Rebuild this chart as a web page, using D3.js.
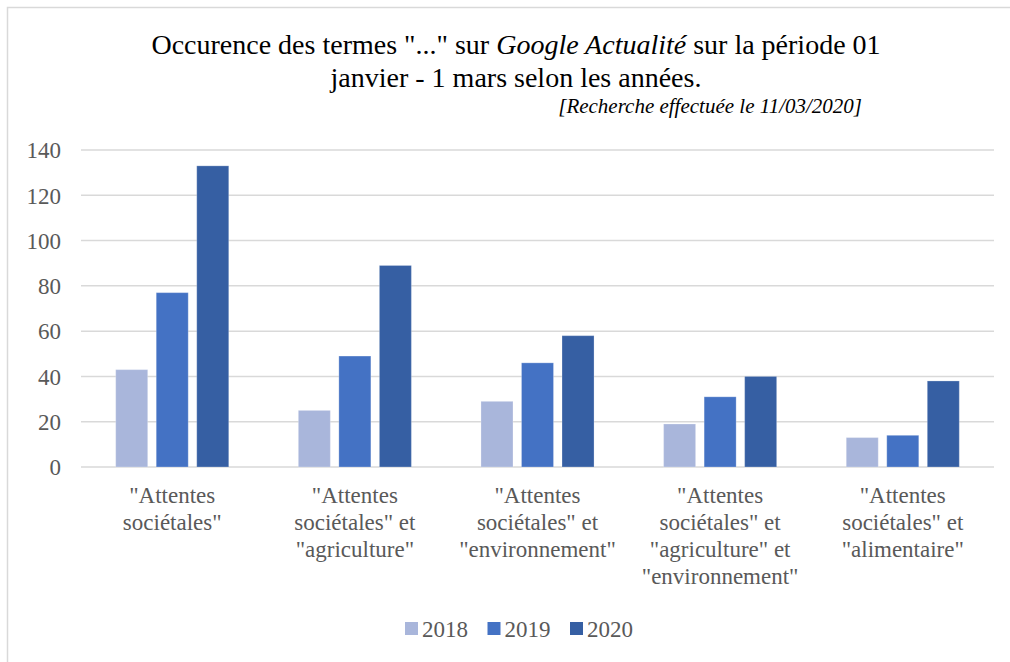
<!DOCTYPE html>
<head>
<meta charset="utf-8">
<script src="https://d3js.org/d3.v7.min.js"></script>
</head>
<body style="margin:0">
<script>
// data
const categories = ['c1', 'c2', 'c3', 'c4', 'c5']
const categoryLines = [
  ['"Attentes', 'sociétales"'],
  ['"Attentes', 'sociétales" et', '"agriculture"'],
  ['"Attentes', 'sociétales" et', '"environnement"'],
  ['"Attentes', 'sociétales" et', '"agriculture" et', '"environnement"'],
  ['"Attentes', 'sociétales" et', '"alimentaire"']
]
const years = ['2018', '2019', '2020']
const values2018 = [43, 25, 29, 19, 13]
const values2019 = [77, 49, 46, 31, 14]
const values2020 = [133, 89, 58, 40, 38]
const yTicks = [0, 20, 40, 60, 80, 100, 120, 140]
const colors = ['#A9B6DB', '#4472C4', '#365FA3']

const series = [values2018, values2019, values2020]
const rows = categories.map((c, i) => ({ cat: c, vals: years.map((y, j) => ({ year: y, v: series[j][i] })) }))

const width = 1010
const height = 662
const serif = 'Times'

const svg = d3.select('body').append('svg')
  .attr('width', width)
  .attr('height', height)

// frame (left + top only)
svg.append('path')
  .attr('d', 'M7.5,662 V7.5 H1010')
  .attr('fill', 'none')
  .attr('stroke', '#D9D9D9')
  .attr('stroke-width', 1.5)

// title
const title = svg.append('text')
  .attr('x', 516).attr('y', 54)
  .attr('text-anchor', 'middle')
  .attr('font-family', serif)
  .style('font-family', serif)
  .style('font-size', '28px')
  .attr('fill', '#000')
title.append('tspan').attr('font-family', serif).text('Occurence des termes "..." sur ')
title.append('tspan').attr('font-family', serif).style('font-style', 'italic').text('Google Actualité')
title.append('tspan').attr('font-family', serif).text(' sur la période 01')

svg.append('text')
  .attr('x', 516).attr('y', 87)
  .attr('text-anchor', 'middle')
  .attr('font-family', serif)
  .style('font-family', serif)
  .style('font-size', '28px')
  .text('janvier - 1 mars selon les années.')

svg.append('text')
  .attr('x', 862).attr('y', 113)
  .attr('text-anchor', 'end')
  .attr('font-family', serif)
  .style('font-family', serif)
  .style('font-size', '21px')
  .style('font-style', 'italic')
  .text('[Recherche effectuée le 11/03/2020]')

// scales
const x0 = d3.scaleBand()
  .domain(categories)
  .range([81, 994])
  .paddingInner(0.381)
  .paddingOuter(0.19)

const x1 = d3.scaleBand()
  .domain(years)
  .range([0, x0.bandwidth()])
  .paddingInner(0.21)

const y = d3.scaleLinear()
  .domain([0, 140])
  .range([467, 150])

const legendX = d3.scalePoint()
  .domain(years)
  .range([405, 570])

// grid
svg.append('g')
  .selectAll('line')
  .data(yTicks)
  .enter().append('line')
  .attr('x1', 81).attr('x2', 994)
  .attr('y1', d => y(d)).attr('y2', d => y(d))
  .attr('stroke', '#D9D9D9')
  .attr('stroke-width', 1.5)

// y axis labels
const yAxis = svg.append('g')
  .attr('transform', 'translate(61,0)')
  .call(d3.axisLeft(y).tickValues(yTicks).tickSize(0).tickPadding(0))
yAxis.attr('font-family', serif)
yAxis.select('.domain').remove()
yAxis.selectAll('text')
  .attr('fill', '#595959')
  .attr('font-family', serif)
  .style('font-family', serif)
  .style('font-size', '23px')
  .attr('dy', '0.34em')

// bars
const groups = svg.append('g')
  .selectAll('g')
  .data(rows)
  .enter().append('g')
  .attr('transform', d => `translate(${x0(d.cat)},0)`)

groups.selectAll('rect')
  .data(d => d.vals)
  .enter().append('rect')
  .attr('x', d => x1(d.year))
  .attr('width', x1.bandwidth())
  .attr('y', d => y(d.v))
  .attr('height', d => y(0) - y(d.v))
  .attr('fill', (d, i) => colors[i])
  .attr('stroke', 'rgba(255,255,255,0.25)')
  .attr('stroke-width', 1)

// category labels
const catLabels = svg.append('g')
  .selectAll('text')
  .data(categories)
  .enter().append('text')
  .attr('text-anchor', 'middle')
  .attr('fill', '#595959')
  .attr('font-family', serif)
  .style('font-family', serif)
  .style('font-size', '23px')
  .attr('x', d => x0(d) + x0.bandwidth() / 2)
  .attr('y', 503)

catLabels.each(function (d, i) {
  const t = d3.select(this)
  categoryLines[i].forEach((line, k) => {
    t.append('tspan')
      .attr('x', x0(d) + x0.bandwidth() / 2)
      .attr('dy', k === 0 ? 0 : 27)
      .attr('font-family', serif)
      .text(line)
  })
})

// legend
const legend = svg.append('g')
  .selectAll('g')
  .data(years)
  .enter().append('g')
  .attr('transform', d => `translate(${legendX(d)},0)`)

legend.append('rect')
  .attr('x', 0).attr('y', 622)
  .attr('width', 13).attr('height', 13)
  .attr('fill', (d, i) => colors[i])

legend.append('text')
  .attr('x', 17).attr('y', 637)
  .attr('fill', '#595959')
  .attr('font-family', serif)
  .style('font-family', serif)
  .style('font-size', '23px')
  .text(d => d)
</script>
</body>
